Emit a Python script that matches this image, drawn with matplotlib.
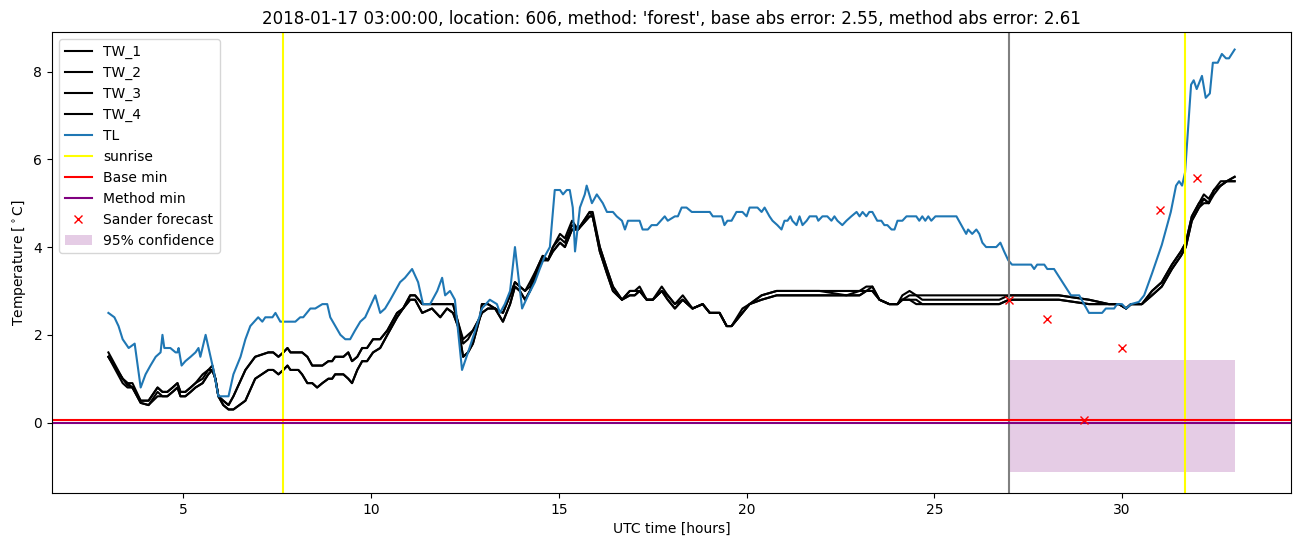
import matplotlib
matplotlib.use("Agg")
import matplotlib.pyplot as plt

# TL (air temperature), hours / degC
tl_hours = [3.0, 3.16, 3.27, 3.38, 3.54, 3.70, 3.86, 3.99, 4.12, 4.26, 4.39, 4.44, 4.49, 4.65,
            4.79, 4.84, 4.87, 4.95, 5.05, 5.19, 5.32, 5.40, 5.45, 5.59, 5.72, 5.80, 5.93, 6.20,
            6.33, 6.52, 6.65, 6.78, 6.99, 7.10, 7.18, 7.37, 7.45, 7.58, 7.98, 8.11, 8.19, 8.38,
            8.51, 8.70, 8.83, 8.91, 9.18, 9.31, 9.44, 9.57, 9.71, 9.84, 10.11, 10.24, 10.37,
            10.51, 10.64, 10.77, 10.90, 11.09, 11.25, 11.38, 11.57, 11.76, 11.89, 11.97, 12.10,
            12.23, 12.42, 12.58, 12.77, 12.95, 13.16, 13.35, 13.43, 13.56, 13.70, 13.83, 14.02,
            14.18, 14.36, 14.49, 14.63, 14.76, 14.89, 15.03, 15.11, 15.21, 15.29, 15.37, 15.43,
            15.56, 15.69, 15.74, 15.88, 16.01, 16.17, 16.28, 16.44, 16.54, 16.68, 16.76, 16.84,
            17.15, 17.23, 17.37, 17.47, 17.61, 17.82, 17.90, 18.09, 18.17, 18.27, 18.40, 18.54,
            19.02, 19.10, 19.34, 19.41, 19.49, 19.60, 19.73, 19.89, 20.00, 20.08, 20.29, 20.40,
            20.48, 20.61, 20.69, 20.82, 20.93, 21.01, 21.09, 21.17, 21.22, 21.33, 21.41, 21.49,
            21.60, 21.68, 21.86, 21.91, 22.02, 22.15, 22.26, 22.34, 22.42, 22.55, 22.66, 22.79,
            22.93, 23.01, 23.09, 23.19, 23.27, 23.35, 23.48, 23.59, 23.67, 23.75, 23.86, 23.94,
            24.02, 24.15, 24.26, 24.52, 24.60, 24.68, 24.76, 24.84, 24.92, 25.03, 25.59, 25.72,
            25.85, 25.90, 26.01, 26.12, 26.20, 26.28, 26.38, 26.65, 26.76, 26.86, 26.97, 27.07,
            27.58, 27.66, 27.74, 27.93, 28.01, 28.19, 28.64, 28.86, 29.12, 29.47, 29.57, 29.79,
            29.87, 30.00, 30.11, 30.24, 30.45, 30.59, 30.80, 31.06, 31.30, 31.44, 31.52, 31.60,
            31.68, 31.84, 31.91, 31.99, 32.13, 32.23, 32.34, 32.42, 32.55, 32.66, 32.77, 32.85,
            33.0]
tl_values = [2.5, 2.4, 2.2, 1.9, 1.7, 1.8, 0.8, 1.1, 1.3, 1.5, 1.6, 2.0, 1.7, 1.7,
             1.6, 1.6, 1.7, 1.3, 1.4, 1.5, 1.6, 1.7, 1.5, 2.0, 1.5, 1.2, 0.6, 0.6,
             1.1, 1.5, 1.9, 2.2, 2.4, 2.3, 2.4, 2.4, 2.5, 2.3, 2.3, 2.4, 2.4, 2.6,
             2.6, 2.7, 2.7, 2.4, 2.0, 1.9, 1.9, 2.1, 2.3, 2.4, 2.9, 2.5, 2.6,
             2.8, 3.0, 3.2, 3.3, 3.5, 3.2, 2.7, 2.7, 3.0, 3.3, 2.9, 3.0,
             2.8, 1.2, 1.6, 2.1, 2.6, 2.8, 2.7, 2.5, 2.7, 3.0, 4.0, 2.6,
             2.9, 3.2, 3.5, 3.8, 4.0, 5.3, 5.3, 5.2, 5.3, 5.3, 4.9, 3.9,
             4.9, 5.2, 5.4, 5.0, 5.2, 5.0, 4.8, 4.8, 4.7, 4.6, 4.4, 4.6,
             4.6, 4.4, 4.4, 4.5, 4.5, 4.7, 4.6, 4.7, 4.7, 4.9, 4.9, 4.8,
             4.8, 4.7, 4.7, 4.5, 4.6, 4.6, 4.8, 4.8, 4.7, 4.9, 4.9, 4.8,
             4.9, 4.7, 4.6, 4.5, 4.4, 4.6, 4.6, 4.7, 4.6, 4.5, 4.7, 4.5,
             4.6, 4.7, 4.7, 4.6, 4.7, 4.7, 4.6, 4.7, 4.6, 4.5, 4.6, 4.7,
             4.8, 4.7, 4.8, 4.7, 4.8, 4.8, 4.6, 4.6, 4.5, 4.5, 4.4, 4.4,
             4.6, 4.6, 4.7, 4.7, 4.6, 4.7, 4.6, 4.7, 4.6, 4.7, 4.7, 4.5,
             4.3, 4.4, 4.3, 4.4, 4.3, 4.1, 4.0, 4.0, 4.1, 3.9, 3.7, 3.6,
             3.6, 3.5, 3.6, 3.6, 3.5, 3.5, 2.9, 2.9, 2.5, 2.5, 2.6, 2.6,
             2.7, 2.7, 2.6, 2.7, 2.75, 2.9, 3.4, 4.05, 4.8, 5.4, 5.5, 5.4,
             5.7, 7.7, 7.8, 7.6, 7.9, 7.4, 7.5, 8.2, 8.2, 8.4, 8.3, 8.3,
             8.5]

# TW (road surface sensors), common time axis
tw_hours = [3.00, 3.38, 3.51, 3.64, 3.86, 4.07, 4.31, 4.44, 4.57, 4.71, 4.84, 4.92, 5.05, 5.19,
            5.32, 5.51, 5.66, 5.77, 5.85, 5.93, 6.06, 6.20, 6.33, 6.65, 6.91, 7.26, 7.39, 7.53,
            7.66, 7.77, 7.85, 8.06, 8.16, 8.30, 8.43, 8.56, 8.70, 8.86, 8.96, 9.04, 9.26, 9.39,
            9.49, 9.63, 9.76, 9.89, 10.05, 10.24, 10.43, 10.69, 10.85, 11.04, 11.17, 11.36, 11.62,
            11.84, 12.02, 12.18, 12.31, 12.45, 12.58, 12.71, 12.90, 12.95, 13.11, 13.30, 13.51,
            13.70, 13.83, 13.96, 14.10, 14.23, 14.41, 14.57, 14.71, 14.84, 15.03, 15.16, 15.35,
            15.51, 15.82, 15.90, 16.09, 16.28, 16.44, 16.68, 16.89, 17.02, 17.15, 17.34, 17.50,
            17.74, 17.90, 18.09, 18.30, 18.56, 18.83, 19.02, 19.28, 19.47, 19.60, 19.89, 20.08,
            20.40, 20.80, 21.94, 22.66, 23.01, 23.19, 23.35, 23.54, 23.80, 24.02, 24.15, 24.34,
            24.52, 24.68, 25.66, 26.73, 26.99, 28.32, 29.12, 29.65, 29.92, 30.11, 30.24, 30.53,
            30.80, 31.06, 31.33, 31.57, 31.70, 31.86, 32.05, 32.18, 32.31, 32.45, 32.63, 32.79,
            33.00]
tw_1 = [1.6, 1.0, 0.9, 0.9, 0.5, 0.5, 0.8, 0.7, 0.7, 0.8, 0.9, 0.7, 0.7, 0.8,
        0.9, 1.0, 1.2, 1.3, 1.0, 0.6, 0.5, 0.4, 0.6, 1.2, 1.5, 1.6, 1.6, 1.5,
        1.6, 1.7, 1.6, 1.6, 1.6, 1.5, 1.3, 1.3, 1.3, 1.4, 1.4, 1.5, 1.5, 1.6,
        1.4, 1.5, 1.7, 1.7, 1.9, 1.9, 2.1, 2.5, 2.6, 2.9, 2.9, 2.7, 2.7,
        2.7, 2.7, 2.7, 2.3, 1.9, 2.0, 2.1, 2.4, 2.7, 2.7, 2.6, 2.5,
        2.9, 3.2, 3.1, 3.0, 3.2, 3.5, 3.8, 3.7, 4.0, 4.3, 4.2, 4.6,
        4.4, 4.8, 4.8, 4.0, 3.5, 3.1, 2.8, 3.0, 3.0, 3.1, 2.8, 2.8,
        3.1, 2.9, 2.7, 2.9, 2.6, 2.7, 2.5, 2.5, 2.2, 2.2, 2.6, 2.7,
        2.9, 3.0, 3.0, 3.0, 3.0, 3.1, 3.1, 2.8, 2.7, 2.7, 2.9, 3.0,
        2.9, 2.9, 2.9, 2.9, 2.9, 2.9, 2.8, 2.7, 2.7, 2.6, 2.7, 2.7,
        3.0, 3.2, 3.6, 3.9, 4.1, 4.7, 5.0, 5.2, 5.1, 5.3, 5.5, 5.5,
        5.6]
tw_2 = [1.5, 1.0, 0.9, 0.8, 0.5, 0.5, 0.8, 0.7, 0.7, 0.8, 0.9, 0.7, 0.7, 0.8,
        0.9, 1.1, 1.2, 1.2, 1.0, 0.6, 0.5, 0.4, 0.6, 1.2, 1.5, 1.6, 1.6, 1.5,
        1.6, 1.7, 1.6, 1.6, 1.6, 1.5, 1.3, 1.3, 1.3, 1.4, 1.4, 1.5, 1.5, 1.6,
        1.4, 1.5, 1.7, 1.7, 1.9, 1.9, 2.1, 2.5, 2.6, 2.9, 2.9, 2.7, 2.7,
        2.7, 2.7, 2.7, 2.3, 1.8, 1.9, 2.1, 2.4, 2.7, 2.7, 2.6, 2.5,
        2.9, 3.2, 3.1, 3.0, 3.1, 3.5, 3.8, 3.7, 4.0, 4.2, 4.1, 4.5,
        4.4, 4.8, 4.7, 4.0, 3.5, 3.1, 2.8, 3.0, 3.0, 3.0, 2.8, 2.8,
        3.0, 2.9, 2.7, 2.8, 2.6, 2.7, 2.5, 2.5, 2.2, 2.2, 2.5, 2.7,
        2.9, 3.0, 3.0, 2.9, 3.0, 3.0, 3.1, 2.8, 2.7, 2.7, 2.8, 2.9,
        2.9, 2.8, 2.8, 2.8, 2.9, 2.9, 2.8, 2.7, 2.7, 2.6, 2.7, 2.7,
        3.0, 3.2, 3.6, 3.9, 4.1, 4.7, 5.0, 5.1, 5.0, 5.3, 5.4, 5.5,
        5.6]
tw_3 = [1.5, 1.0, 0.85, 0.8, 0.45, 0.4, 0.7, 0.6, 0.6, 0.7, 0.8, 0.6, 0.6, 0.7,
        0.8, 0.9, 1.1, 1.2, 1.0, 0.6, 0.4, 0.3, 0.3, 0.5, 1.0, 1.2, 1.2, 1.1,
        1.2, 1.3, 1.2, 1.2, 1.1, 0.9, 0.9, 0.8, 0.9, 1.0, 1.0, 1.1, 1.1, 1.0,
        0.9, 1.2, 1.4, 1.4, 1.6, 1.7, 2.0, 2.4, 2.6, 2.8, 2.8, 2.5, 2.6,
        2.4, 2.6, 2.5, 2.2, 1.5, 1.6, 1.8, 2.4, 2.5, 2.6, 2.6, 2.3,
        2.7, 3.1, 3.0, 2.8, 3.0, 3.4, 3.7, 3.7, 3.9, 4.1, 4.0, 4.4,
        4.4, 4.7, 4.7, 3.9, 3.4, 3.0, 2.8, 2.9, 2.9, 3.0, 2.8, 2.8,
        3.0, 2.8, 2.6, 2.8, 2.6, 2.7, 2.5, 2.5, 2.2, 2.2, 2.5, 2.7,
        2.8, 2.9, 2.9, 2.9, 2.9, 3.0, 3.0, 2.8, 2.7, 2.7, 2.8, 2.8,
        2.8, 2.7, 2.7, 2.7, 2.8, 2.8, 2.7, 2.7, 2.7, 2.6, 2.7, 2.7,
        2.9, 3.1, 3.5, 3.8, 4.0, 4.6, 4.9, 5.1, 5.0, 5.3, 5.4, 5.5,
        5.5]
tw_4 = [1.5, 0.9, 0.8, 0.8, 0.45, 0.4, 0.6, 0.6, 0.6, 0.7, 0.8, 0.6, 0.6, 0.7,
        0.8, 0.9, 1.1, 1.2, 1.0, 0.6, 0.4, 0.3, 0.3, 0.5, 1.0, 1.2, 1.2, 1.1,
        1.2, 1.3, 1.2, 1.2, 1.1, 0.9, 0.9, 0.8, 0.9, 1.0, 1.0, 1.1, 1.1, 1.0,
        0.9, 1.2, 1.4, 1.4, 1.6, 1.7, 2.0, 2.4, 2.6, 2.8, 2.8, 2.5, 2.6,
        2.4, 2.6, 2.5, 2.2, 1.5, 1.6, 1.8, 2.4, 2.5, 2.6, 2.6, 2.3,
        2.7, 3.1, 3.0, 2.8, 3.0, 3.4, 3.7, 3.7, 3.9, 4.1, 4.0, 4.4,
        4.4, 4.7, 4.7, 3.9, 3.4, 3.0, 2.8, 2.9, 2.9, 3.0, 2.8, 2.8,
        3.0, 2.8, 2.6, 2.8, 2.6, 2.7, 2.5, 2.5, 2.2, 2.2, 2.5, 2.7,
        2.8, 2.9, 2.9, 2.9, 2.9, 3.0, 3.0, 2.8, 2.7, 2.7, 2.8, 2.8,
        2.7, 2.7, 2.7, 2.7, 2.8, 2.8, 2.7, 2.7, 2.7, 2.6, 2.7, 2.7,
        2.9, 3.1, 3.5, 3.8, 4.0, 4.6, 4.9, 5.0, 5.0, 5.2, 5.4, 5.5,
        5.5]

sunrise_hours = [7.66, 31.68]
forecast_start = 27.0
base_min = 0.06
method_min = 0.0

sander_hours = [27, 28, 29, 30, 31, 32]
sander_values = [2.8, 2.35, 0.05, 1.7, 4.85, 5.57]

conf_hours = [27.0, 33.0]
conf_low = [-1.13, -1.13]
conf_high = [1.43, 1.43]

title = ("2018-01-17 03:00:00, location: 606, method: 'forest', "
         "base abs error: 2.55, method abs error: 2.61")

fig, ax = plt.subplots(figsize=(13.02, 5.47), dpi=100)
fig.subplots_adjust(left=0.04, right=0.9915, top=0.9415, bottom=0.099)

for name, vals in zip(["TW_1", "TW_2", "TW_3", "TW_4"], [tw_1, tw_2, tw_3, tw_4]):
    ax.plot(tw_hours, vals, color="black", label=name)
ax.plot(tl_hours, tl_values, color="C0", label="TL")
for i, s in enumerate(sunrise_hours):
    ax.axvline(s, color="yellow", label="sunrise" if i == 0 else None)
ax.axvline(forecast_start, color="gray")
ax.axhline(base_min, color="red", label="Base min")
ax.axhline(method_min, color="purple", label="Method min")
ax.plot(sander_hours, sander_values, "x", color="red", label="Sander forecast")
ax.fill_between(conf_hours, conf_low, conf_high, color="purple", alpha=0.2,
                linewidth=0, label="95% confidence")

ax.set_xlim(1.5, 34.5)
ax.set_ylim(-1.6, 8.9)
ax.set_title(title)
ax.set_xlabel("UTC time [hours]")
ax.set_ylabel(r"Temperature [$^\circ$C]")
ax.legend(loc="upper left")

fig.savefig("out.png")
